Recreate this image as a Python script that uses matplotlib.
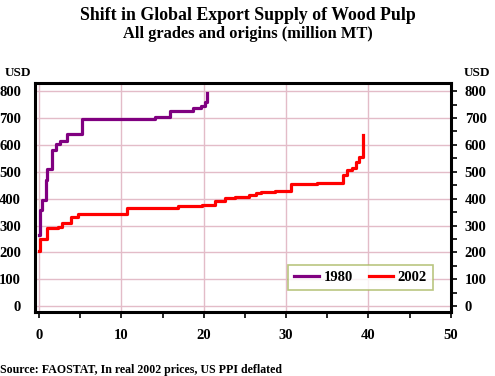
import matplotlib
matplotlib.use("Agg")
import matplotlib.pyplot as plt
from matplotlib.ticker import MultipleLocator

'''
Data read off the chart (cumulative supply, million MT / price level, USD)
'''
supply_1980 = [0, 0.05, 0.4, 0.8, 1.0, 1.6, 2.1, 2.55, 3.4, 5.2, 14.1, 15.9, 18.65, 19.7, 20.1, 20.4]
price_1980 = [265, 358, 395, 470, 512, 581, 603, 613, 640, 695, 702, 725, 736, 745, 760, 795]

supply_2002 = [0, 0.05, 1.0, 2.35, 2.8, 3.85, 4.7, 10.7, 16.9, 19.8, 21.4, 22.6, 23.8, 25.5,
               26.3, 26.9, 28.7, 30.6, 33.7, 36.9, 37.35, 38.0, 38.45, 38.9, 39.3]
price_2002 = [207, 250, 290, 296, 308, 333, 343, 365, 372, 377, 390, 402, 407, 414,
              420, 426, 430, 455, 458, 488, 507, 513, 538, 554, 637]

x_ticks = [0, 10, 20, 30, 40, 50]
y_ticks = [0, 100, 200, 300, 400, 500, 600, 700, 800]

'''
Plot
'''
plt.rcParams["font.family"] = ["Liberation Serif", "DejaVu Serif"]
plt.rcParams["font.weight"] = "bold"

fig = plt.figure(figsize=(4.95, 3.76), dpi=100)
ax = fig.add_axes([0.0707, 0.170, 0.840, 0.609])

grid_col = "#e3bcc8"
ax.plot(supply_1980, price_1980, drawstyle="steps-post", color="#800080", linewidth=2.3, label="1980", zorder=3)
ax.plot(supply_2002, price_2002, drawstyle="steps-post", color="#ff0000", linewidth=2.3, label="2002", zorder=3)

ax.set_xlim(-0.5, 50)
ax.set_ylim(-22, 830)

# vertical gridlines only up to 40, horizontal at every 100
for v in x_ticks[:-1]:
    ax.axvline(v, color=grid_col, linewidth=1, zorder=1)
for v in y_ticks:
    ax.axhline(v, color=grid_col, linewidth=1, zorder=1)

for s in ax.spines.values():
    s.set_linewidth(2.2)
    s.set_color("black")

ax.set_xticks(x_ticks)
ax.set_xticklabels([str(t) for t in x_ticks], fontsize=10.5, fontweight="bold")
ax.xaxis.set_minor_locator(MultipleLocator(5))
ax.tick_params(axis="x", which="both", direction="out", length=4, width=1.2, pad=8)

# y labels on both sides, tick marks only on the right
ax.set_yticks(y_ticks)
ax.set_yticklabels([str(t) for t in y_ticks], fontsize=10.5, fontweight="bold")
ax.yaxis.set_minor_locator(MultipleLocator(50))
ax.tick_params(axis="y", which="both", left=False, right=True, labelleft=True, labelright=True,
               direction="out", length=4, width=1.2, pad=6)

leg = ax.legend(loc="lower right", bbox_to_anchor=(0.957, 0.097), ncol=2, fontsize=10.5,
                frameon=True, fancybox=False, handlelength=1.7, handletextpad=0.3,
                columnspacing=1.1, borderpad=0.4, borderaxespad=0)
leg.get_frame().set_edgecolor("#a8b860")
leg.get_frame().set_linewidth(1.2)
for t in leg.get_texts():
    t.set_fontweight("bold")

fig.text(0.5, 0.960, "Shift in Global Export Supply of Wood Pulp", ha="center", va="center",
         fontsize=12.8, fontweight="bold")
fig.text(0.5, 0.910, "All grades and origins (million MT)", ha="center", va="center",
         fontsize=11.8, fontweight="bold")
fig.text(0.010, 0.806, "USD", ha="left", va="center", fontsize=9.5, fontweight="bold")
fig.text(0.990, 0.806, "USD", ha="right", va="center", fontsize=9.5, fontweight="bold")
fig.text(0.0, 0.016, "Source: FAOSTAT, In real 2002 prices, US PPI deflated", ha="left", va="center",
         fontsize=8.6, fontweight="bold")

fig.savefig("out.png", dpi=100, facecolor="white")
